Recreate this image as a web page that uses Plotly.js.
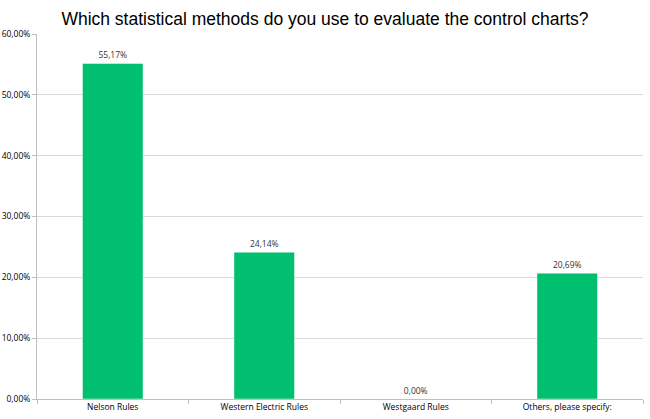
<!DOCTYPE html>
<html><head><meta charset="utf-8">
<script src="https://cdn.plot.ly/plotly-3.0.1.min.js"></script>
<style>body{margin:0;background:#fff}#c{width:650px;height:419px}</style>
</head><body><div id="c"></div>
<script>
const categories = ["Nelson Rules", "Western Electric Rules", "Westgaard Rules", "Others, please specify:"];
const values = [0.5517, 0.2414, 0.0, 0.2069];
const labels = values.map(v => (v*100).toFixed(2).replace('.', ',') + '%');
const tickVals = [0, 0.1, 0.2, 0.3, 0.4, 0.5, 0.6];
const tickText = tickVals.map(v => (v*100).toFixed(2).replace('.', ',') + '%');

Plotly.newPlot('c', [{
  type: 'bar', x: categories, y: values, text: labels, textposition: 'outside',
  textfont: {family: 'Open Sans, sans-serif', size: 8.5, color: '#333'},
  cliponaxis: false,
  marker: {color: '#00BF6F', line: {color: '#ffffff', width: 0.5}},
  hoverinfo: 'none'
}], {
  width: 650, height: 419,
  margin: {l: 37, r: 7, t: 34, b: 20},
  paper_bgcolor: '#fff', plot_bgcolor: '#fff',
  bargap: 0.6,
  showlegend: false,
  title: {text: 'Which statistical methods do you use to evaluate the control charts?',
    font: {family: 'Liberation Sans, Arial, sans-serif', size: 17.5, color: '#000'},
    x: 0.5, xanchor: 'center', y: 0.97, yanchor: 'top'},
  xaxis: {showline: true, linecolor: '#bfbfbf', linewidth: 1, ticks: 'outside', ticklen: 4, tickcolor: '#bfbfbf',
    tickson: 'boundaries', showgrid: false,
    tickfont: {family: 'Open Sans, sans-serif', size: 8.5, color: '#000'}},
  yaxis: {range: [0, 0.6], tickvals: tickVals, ticktext: tickText, showline: true, linecolor: '#bfbfbf', linewidth: 1,
    ticks: 'outside', ticklen: 4, tickcolor: '#bfbfbf', gridcolor: '#d9d9d9', gridwidth: 1, zeroline: false,
    tickfont: {family: 'Open Sans, sans-serif', size: 8.5, color: '#000'}}
}, {staticPlot: true});
</script></body></html>
